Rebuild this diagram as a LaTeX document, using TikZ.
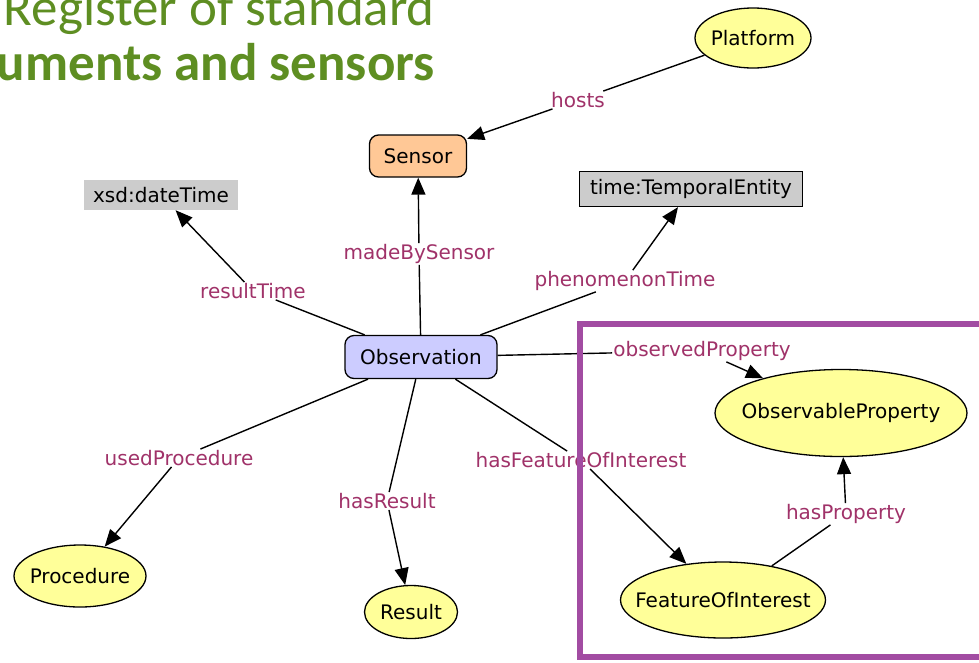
\documentclass[tikz,border=0pt]{standalone}
\usepackage{fontspec}
\setmainfont{DejaVu Sans}
\newfontfamily\titlefont{Carlito}
\usetikzlibrary{arrows.meta,shapes.geometric}
\definecolor{labcol}{RGB}{160,50,105}
\definecolor{titlegreen}{RGB}{94,142,34}
\definecolor{boxpurple}{RGB}{162,76,162}
\definecolor{lav}{RGB}{204,204,255}
\definecolor{peach}{RGB}{255,200,150}
\definecolor{ylw}{RGB}{255,255,153}
\definecolor{gry}{RGB}{204,204,204}
\tikzset{
  x=1pt, y=-1pt,
  basefont/.style={font=\fontsize{20}{22}\selectfont},
  every label/.style={basefont, inner sep=0pt},
  rbox/.style={basefont, draw=black, line width=1.3pt, rounded corners=9pt, inner sep=0pt},
  ell/.style={ellipse, draw=black, line width=1.3pt, fill=ylw, inner sep=0pt},
  lit/.style={basefont, fill=gry, inner sep=0pt},
  lab/.style={basefont, text=labcol, fill=white, inner sep=1pt},
  arr/.style={line width=1.4pt, -{Triangle[length=17pt,width=14pt]}},
  ttl/.style={font=\titlefont\fontsize{53}{58}\selectfont, text=titlegreen, inner sep=0pt, anchor=base east}
}
\begin{document}
\begin{tikzpicture}
\useasboundingbox (0,0) rectangle (979,662);
\clip (0,0) rectangle (979,662);
% title
\node[ttl] (t1) at (435,25) {Register of standard};
\node[ttl, font=\titlefont\bfseries\fontsize{53}{58}\selectfont] (t2) at (435,80) {uments and sensors};
% nodes
\node[ell, minimum width=116pt, minimum height=60pt, label={center:Platform}] (platform) at (753,38) {};
\node[rbox, fill=peach, minimum width=97pt, minimum height=42pt] (sensor) at (418,156) {Sensor};
\node[lit, minimum width=154pt, minimum height=30pt] (xsd) at (161,195) {xsd:dateTime};
\node[lit, draw=black, line width=1.3pt, minimum width=223pt, minimum height=35pt] (temp) at (691,189) {time:TemporalEntity};
\node[rbox, fill=lav, minimum width=152pt, minimum height=43pt] (obs) at (421,357) {Observation};
\node[ell, minimum width=252pt, minimum height=87pt, label={center:ObservableProperty}] (oprop) at (841,413) {};
\node[ell, minimum width=132pt, minimum height=62pt, label={center:Procedure}] (proc) at (80,576) {};
\node[ell, minimum width=93pt, minimum height=53pt, label={center:Result}] (res) at (411,612) {};
\node[ell, minimum width=205pt, minimum height=76pt, label={center:FeatureOfInterest}] (foi) at (723,600) {};
% labels
\node[lab] (lhosts) at (578,100) {hosts};
\node[lab] (lmade) at (419,254) {madeBySensor};
\node[lab] (lrt) at (253,291) {resultTime};
\node[lab] (lpt) at (625,281) {phenomenonTime};
\node[lab] (lop) at (702,351) {observedProperty};
\node[lab] (lup) at (179,458) {usedProcedure};
\node[lab] (lhr) at (387,501) {hasResult};
\node[lab] (lfoi) at (581,460) {hasFeatureOfInterest};
\node[lab] (lhp) at (846,514) {hasProperty};
% edges
\draw[arr] (platform) -- (lhosts) -- (sensor);
\draw[arr] (obs) -- (lmade) -- (sensor);
\draw[arr] (obs) -- (lrt) -- (xsd);
\draw[arr] (obs) -- (lpt) -- (temp);
\draw[arr] (obs) -- (lop) -- (oprop);
\draw[arr] (obs) -- (lup) -- (proc);
\draw[arr] (obs) -- (lhr) -- (res);
\draw[arr] (obs) -- (lfoi) -- (foi);
\draw[arr] (foi) -- (lhp) -- (oprop);
% highlight box
\draw[boxpurple, line width=6pt] (580,324) rectangle (1000,657);
\end{tikzpicture}
\end{document}
